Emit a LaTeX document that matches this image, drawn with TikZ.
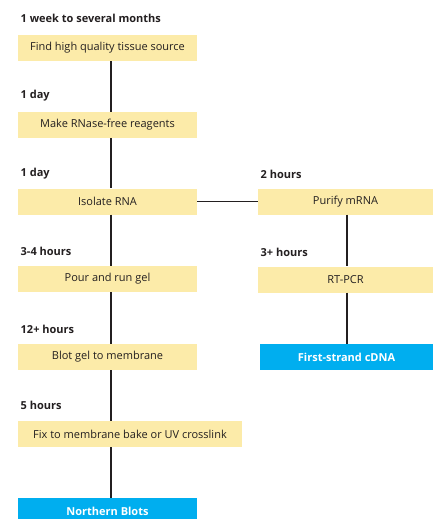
\documentclass[tikz,border=0pt]{standalone}
\usepackage{fontspec}
\setmainfont{Open Sans}
\usetikzlibrary{calc}
\definecolor{stepyellow}{HTML}{FCEBA9}
\definecolor{endblue}{HTML}{00AEEF}
\definecolor{inkgrey}{HTML}{231F20}
\tikzset{
	stepbox/.style={fill=stepyellow, text=inkgrey, minimum height=26pt, inner sep=0pt, font=\fontsize{11}{13}\selectfont},
	endbox/.style={fill=endblue, text=white, minimum height=26pt, inner sep=0pt, font=\fontsize{11}{13}\selectfont\bfseries},
	timelabel/.style={anchor=west, text=inkgrey, inner sep=0pt, font=\fontsize{11}{13}\selectfont\bfseries},
	link/.style={draw=inkgrey, line width=1.6pt}
}

\begin{document}
\begin{tikzpicture}[x=1pt, y=-1pt]
			%%%%% START %%%%%
			\useasboundingbox (0, 0) rectangle (433, 519);
			\coordinate (spine) at (111, 0);
			\coordinate (rspine) at (347, 0);
			
			\node[timelabel] (t1) at (20.5, 18) {1 week to several months};
			\node[stepbox, minimum width=179pt] (tissue) at (107.5, 48) {Find high quality tissue source};
			
			\node[timelabel] (t2) at (20.5, 96) {1 day};
			\node[stepbox, minimum width=179pt] (reagents) at (107.5, 125) {Make RNase-free reagents};
			
			\node[timelabel] (t3) at (20.5, 174) {1 day};
			\node[stepbox, minimum width=179pt] (isolate) at (107.5, 201.5) {Isolate RNA};
			
			\node[timelabel] (t4) at (20.5, 251) {3-4 hours};
			\node[stepbox, minimum width=179pt] (gel) at (107.5, 279) {Pour and run gel};
			
			\node[timelabel] (t5) at (20.5, 329) {12+ hours};
			\node[stepbox, minimum width=179pt] (blot) at (107.5, 357) {Blot gel to membrane};
			
			\node[timelabel] (t6) at (20.5, 405) {5 hours};
			\node[stepbox, minimum width=224pt] (fix) at (130, 434) {Fix to membrane bake or UV crosslink};
			
			\node[endbox, minimum width=179pt] (northern) at (107.5, 511) {Northern Blots};
			
			\node[timelabel] (t7) at (260.5, 174) {2 hours};
			\node[stepbox, minimum width=175pt] (purify) at (345.5, 201.5) {Purify mRNA};
			
			\node[timelabel] (t8) at (260.5, 252) {3+ hours};
			\node[stepbox, minimum width=175pt] (rtpcr) at (345.5, 279.5) {RT-PCR};
			
			\node[endbox, minimum width=173pt] (cdna) at (346.5, 357) {First-strand cDNA};
			
			\draw[link] (tissue.south -| spine) -- (reagents.north -| spine);
			\draw[link] (reagents.south -| spine) -- (isolate.north -| spine);
			\draw[link] (isolate.south -| spine) -- (gel.north -| spine);
			\draw[link] (gel.south -| spine) -- (blot.north -| spine);
			\draw[link] (blot.south -| spine) -- (fix.north -| spine);
			\draw[link] (fix.south -| spine) -- (northern.north -| spine);
			\draw[link] (isolate.east) -- (purify.west);
			\draw[link] (purify.south -| rspine) -- (rtpcr.north -| rspine);
			\draw[link] (rtpcr.south -| rspine) -- (cdna.north -| rspine);
			%%%%% END %%%%%
\end{tikzpicture}
\end{document}
